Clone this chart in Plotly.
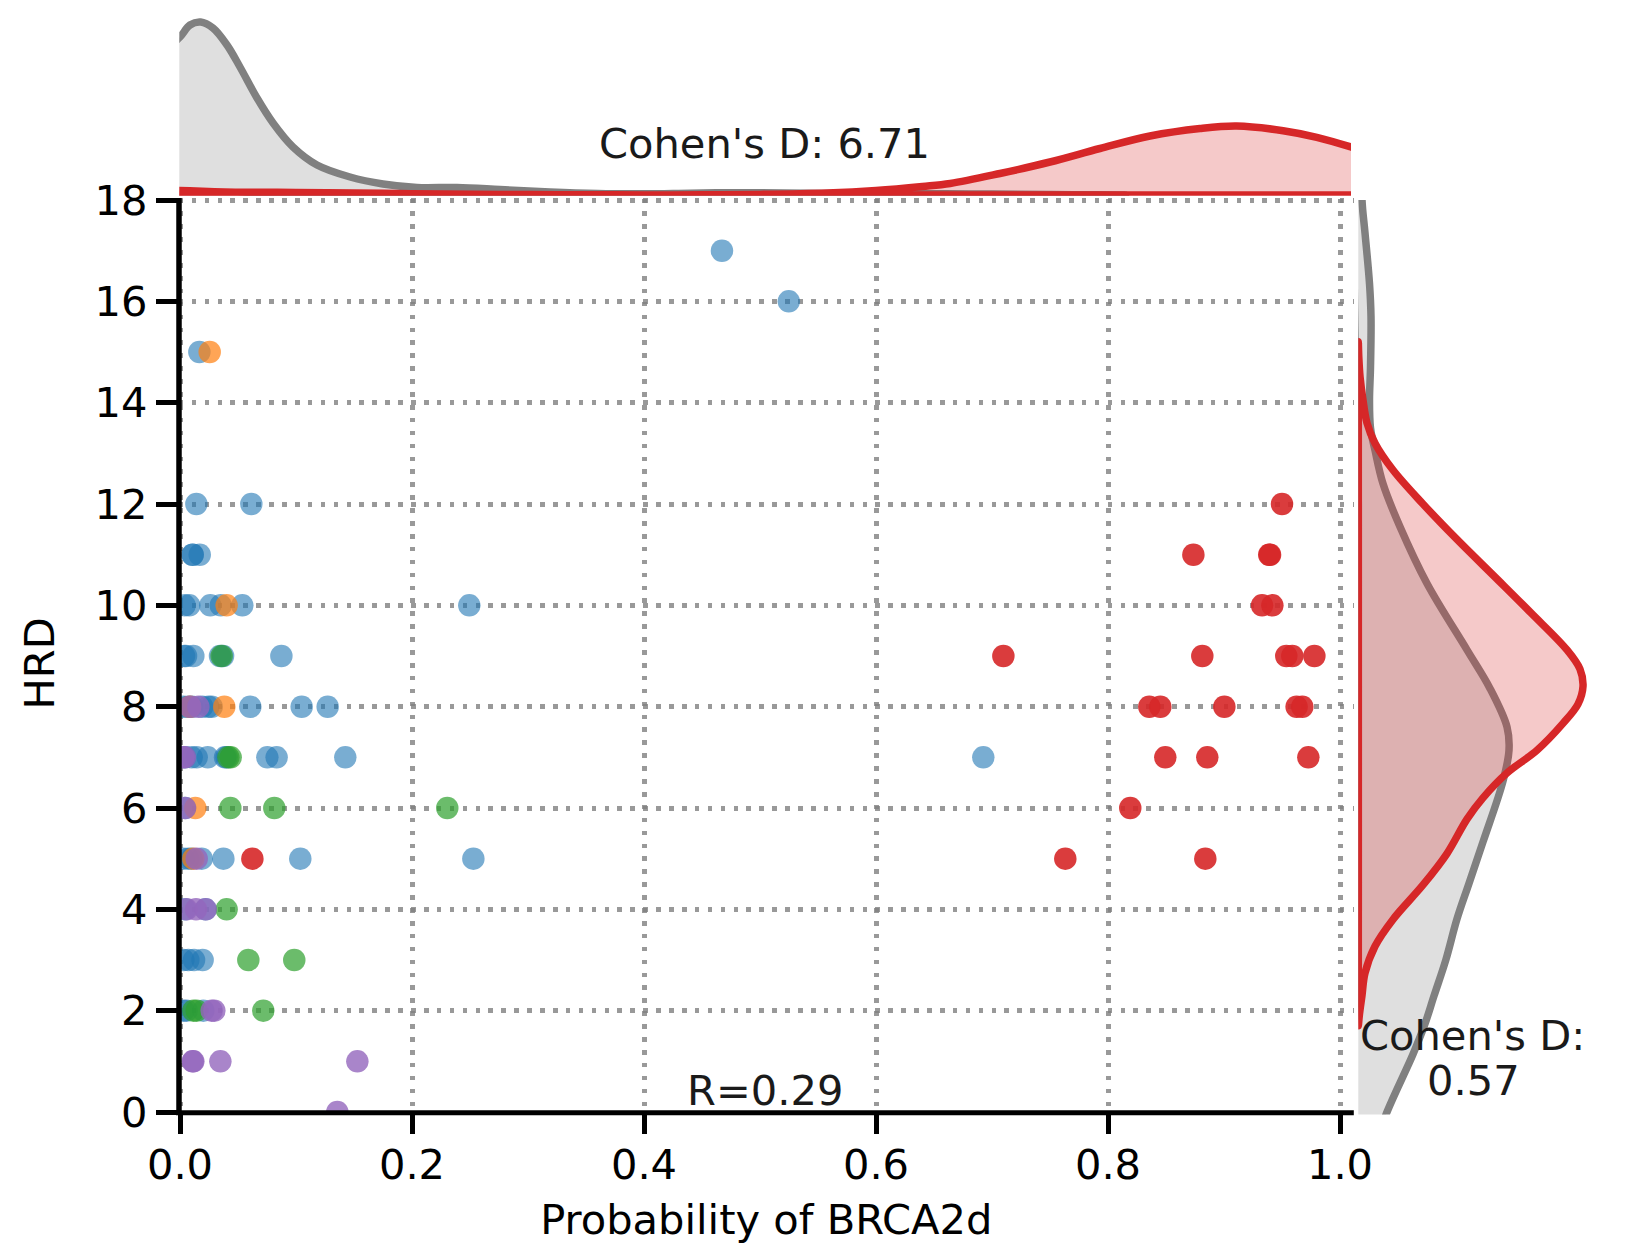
import plotly.graph_objects as go

W, H = 1625, 1250
FONT = "DejaVu Sans"
FS = 41.6

# ---- scatter values (probability of BRCA2d, HRD) ----
blue_x = [0.4672, 0.5248, 0.0167, 0.0141, 0.0615, 0.0109, 0.0109, 0.017,
          0.004, 0.008, 0.0261, 0.0351, 0.0537, 0.2494,
          0.0035, 0.0052, 0.0115, 0.0345, 0.0371, 0.0874,
          0.0029, 0.0072, 0.0105, 0.0191, 0.0244, 0.0273, 0.0606, 0.1049, 0.1273,
          0.0043, 0.0101, 0.0144, 0.0239, 0.0388, 0.0402, 0.0753, 0.0833, 0.1425, 0.6925,
          0.0043,
          0.0029, 0.0072, 0.0101, 0.0187, 0.0374, 0.1037, 0.2529,
          0.0043, 0.0221,
          0.0029, 0.0072, 0.0121, 0.0195,
          0.0029, 0.0057, 0.0201]
blue_y = [17, 16, 15, 12, 12, 11, 11, 11,
          10, 10, 10, 10, 10, 10,
          9, 9, 9, 9, 9, 9,
          8, 8, 8, 8, 8, 8, 8, 8, 8,
          7, 7, 7, 7, 7, 7, 7, 7, 7, 7,
          6,
          5, 5, 5, 5, 5, 5, 5,
          4, 4,
          3, 3, 3, 3,
          2, 2, 2]

orange_x = [0.0256, 0.0402, 0.0086, 0.0382, 0.0132, 0.0115]
orange_y = [15, 10, 8, 8, 6, 5]

green_x = [0.0359, 0.0417, 0.0437, 0.0434, 0.0813, 0.2304, 0.0402, 0.0589, 0.0985, 0.0115, 0.0144, 0.0718]
green_y = [9, 7, 7, 6, 6, 6, 4, 3, 3, 2, 2, 2]

purple_x = [0.0086, 0.0158, 0.0029, 0.0043, 0.0043, 0.0144, 0.0057, 0.0138, 0.0221,
            0.0273, 0.0296, 0.0109, 0.0115, 0.0348, 0.1529, 0.1356]
purple_y = [8, 8, 7, 7, 6, 5, 4, 4, 4, 2, 2, 1, 1, 1, 1, 0]

red_x = [0.950, 0.8736, 0.9397, 0.939, 0.9328, 0.9417,
         0.7098, 0.8813, 0.9537, 0.9589, 0.9779,
         0.8356, 0.8451, 0.9003, 0.9626, 0.9675,
         0.8494, 0.8856, 0.9727, 0.8192, 0.7632, 0.8839, 0.0624]
red_y = [12, 11, 11, 11, 10, 10,
         9, 9, 9, 9, 9,
         8, 8, 8, 8, 8,
         7, 7, 7, 6, 5, 5, 5]

# ---- top density curves ----
top_gray_x = [-0.04, -0.02, 0, 0.0086, 0.0178, 0.0284, 0.0405, 0.0517, 0.0664, 0.0802, 0.0974,
              0.1181, 0.1466, 0.175, 0.2043, 0.2388, 0.2759, 0.319, 0.36, 0.4, 0.44, 0.48,
              0.52, 0.56, 0.6, 0.66, 0.70, 0.75, 0.815]
top_gray_y = [1.0, 1.36, 1.58, 1.70, 1.73, 1.67, 1.50, 1.28, 0.97, 0.72, 0.48,
              0.30, 0.18, 0.11, 0.075, 0.075, 0.055, 0.03, 0.015, 0.012, 0.018, 0.023,
              0.021, 0.016, 0.012, 0.012, 0.01, 0.004, 0.0]
top_red_x = [-0.04, 0.05, 0.1, 0.15, 0.2, 0.25, 0.3, 0.35, 0.4, 0.45, 0.5, 0.558, 0.6, 0.64, 0.664,
             0.7069, 0.75, 0.7931, 0.8362, 0.8793, 0.911, 0.951, 0.98, 1.0086, 1.03, 1.06]
top_red_y = [0.026, 0.028, 0.026, 0.02, 0.013, 0.008, 0.004, 0.002, 0.001, 0.002, 0.006, 0.02, 0.045, 0.085, 0.115,
             0.215, 0.33, 0.465, 0.59, 0.665, 0.69, 0.643, 0.577, 0.483, 0.40, 0.28]
top_base_x = [0.7, 0.5, 0.3, 0.1]
top_red_end_x = [1.06, 1.055, 1.05, 1.02, 0.98, 0.94, 0.9, 0.85, 0.8]

# ---- right density curves ----
right_gray_hrd = [19, 18, 17.35, 16.35, 15.7, 14.7, 14.05, 13.5, 13.06, 12.4, 11.55, 10.43, 9.12,
                  8.36, 7.6, 7.14, 6.53, 5.33, 4.5, 3.81, 3.0, 2.29, 1.7, 1.14, 0, -1]
right_gray_den = [0.0035, 0.0037, 0.0067, 0.0112, 0.0127, 0.0122, 0.0112, 0.0122, 0.0167, 0.0247,
                  0.0417, 0.0687, 0.1087, 0.1317, 0.1487, 0.1507, 0.1447, 0.1247, 0.1105, 0.0987,
                  0.0875, 0.0757, 0.066, 0.0547, 0.0287, 0.01]
right_red_hrd = [15.2, 14.9, 14.5, 14.05, 13.6, 13.2, 12.67, 12, 11.3, 10.5, 9.85, 9.12, 8.74, 8.4, 8.05, 7.67,
                 7.14, 6.69, 6.2, 5.78, 5.1, 4.48, 3.8, 3.27, 2.74, 2.3, 1.9, 1.7]
right_red_den = [0, 0.0005, 0.0018, 0.0047, 0.0087, 0.0167, 0.0347, 0.0647, 0.0987, 0.1397, 0.1727, 0.2087, 0.2217,
                 0.2247, 0.2197, 0.2047, 0.1787, 0.1487, 0.1247, 0.1087, 0.0887, 0.0647, 0.0347,
                 0.0167, 0.0067, 0.0037, 0.001, 0]
right_base_hrd = [2.0, 4, 8, 12, 15]

x_ticks = [0, 0.2, 0.4, 0.6, 0.8, 1.0]
y_ticks = list(range(0, 20, 2))


def px_x(p):
    return p / W


def px_y(p):
    return 1 - p / H


fig = go.Figure()

for xs, ys, col in [
    (blue_x, blue_y, "rgba(31,119,180,0.6)"),
    (orange_x, orange_y, "rgba(255,127,14,0.7)"),
    (green_x, green_y, "rgba(44,160,44,0.7)"),
    (purple_x, purple_y, "rgba(148,103,189,0.8)"),
    (red_x, red_y, "rgba(214,39,40,0.9)"),
]:
    fig.add_trace(go.Scatter(x=xs, y=ys, mode="markers", xaxis="x", yaxis="y",
                             marker=dict(size=22.5, color=col, line=dict(width=0)),
                             hoverinfo="skip"))


def kde(xs, ys, ax, col, fill):
    fig.add_trace(go.Scatter(x=xs, y=ys, mode="lines", xaxis="x" + ax, yaxis="y" + ax,
                             fill="toself", fillcolor=fill,
                             line=dict(color=col, width=7.5, shape="spline", smoothing=1.0),
                             hoverinfo="skip"))


GR, GF = "#808080", "rgba(128,128,128,0.25)"
RD, RF = "#d62728", "rgba(214,39,40,0.25)"
n = len(top_base_x)
kde([top_gray_x[0]] + top_gray_x + top_base_x + [top_gray_x[0]],
    [0] + top_gray_y + [0] * n + [0], "2", GR, GF)
kde([top_red_x[0]] + top_red_x + top_red_end_x + top_base_x + [top_red_x[0]],
    [0] + top_red_y + [0] * len(top_red_end_x) + [0] * n + [0], "2", RD, RF)
kde([0] + right_gray_den + [0, 0, 0, 0, 0],
    [right_gray_hrd[0]] + right_gray_hrd + [right_gray_hrd[-1], 4, 8, 12, right_gray_hrd[0]], "3", GR, GF)
kde(right_red_den + [0] * len(right_base_hrd) + [0],
    right_red_hrd + right_base_hrd + [right_red_hrd[0]], "3", RD, RF)

tickfont = dict(family=FONT, size=FS, color="black")
GRID = dict(showgrid=True, gridcolor="rgba(128,128,128,0.8)", gridwidth=5, griddash="4.6px,8.3px")
fig.update_layout(
    template="none",
    width=W, height=H, autosize=False,
    margin=dict(l=0, r=0, t=0, b=0, pad=0),
    paper_bgcolor="white", plot_bgcolor="rgba(0,0,0,0)",
    showlegend=False,
    font=dict(family=FONT, size=FS, color="black"),
    xaxis=dict(domain=[px_x(178.84), px_x(1353.8)], range=[-0.001, 1173.8 / 1160], anchor="y", automargin=False,
               tickmode="array", tickvals=x_ticks, tickformat=".1f", tickfont=tickfont,
               ticks="outside", ticklen=21, tickwidth=4.5, tickcolor="black",
               ticklabelstandoff=-5,
               showline=False, zeroline=False, **GRID,
               title=dict(text="Probability of BRCA2d", font=dict(family=FONT, size=FS, color="black"), standoff=16)),
    yaxis=dict(domain=[px_y(1112), px_y(198.5)], range=[0, 18.03], anchor="x", automargin=False,
               tickmode="array", tickvals=y_ticks, tickfont=tickfont,
               ticks="outside", ticklen=22, tickwidth=4.5, tickcolor="black",
               showline=False, zeroline=False, **GRID),
    xaxis2=dict(domain=[px_x(179.3), px_x(1351)], range=[-0.0006, 1.0095], anchor="y2", visible=False),
    yaxis2=dict(domain=[px_y(195.7), px_y(0)], range=[-0.007, 1.95], anchor="x2", visible=False),
    xaxis3=dict(domain=[px_x(1358.3), px_x(1620)], range=[0, 0.2617], anchor="y3", visible=False),
    yaxis3=dict(domain=[px_y(1114.5), px_y(200)], range=[-0.05, 18], anchor="x3", visible=False),
    shapes=[
        dict(type="line", xref="paper", yref="paper", x0=px_x(176), x1=px_x(1353.8), y0=px_y(1112.7), y1=px_y(1112.7),
             line=dict(color="black", width=5), layer="above"),
        dict(type="line", xref="paper", yref="paper", x0=px_x(179), x1=px_x(179), y0=px_y(1115), y1=px_y(198),
             line=dict(color="black", width=5.5), layer="above"),
    ],
    annotations=[
        dict(text=t, xref="paper", yref="paper", x=px_x(x), y=px_y(y), showarrow=False,
             xanchor="center", yanchor="middle",
             font=dict(family=FONT, size=FS, color="#1a1a1a"))
        for t, x, y in [("Cohen's D: 6.71", 764, 144),
                        ("R=0.29", 765, 1090),
                        ("Cohen's D:", 1472, 1035),
                        ("0.57", 1473, 1080)]
    ] + [
        dict(text="HRD", xref="paper", yref="paper", x=px_x(38.5), y=px_y(664), showarrow=False,
             xanchor="center", yanchor="middle", textangle=-90,
             font=dict(family=FONT, size=FS, color="black")),
    ],
)

fig.write_html("out.html", config=dict(displayModeBar=False),
               post_script="document.body.style.margin='0';document.body.style.overflow='hidden';")
